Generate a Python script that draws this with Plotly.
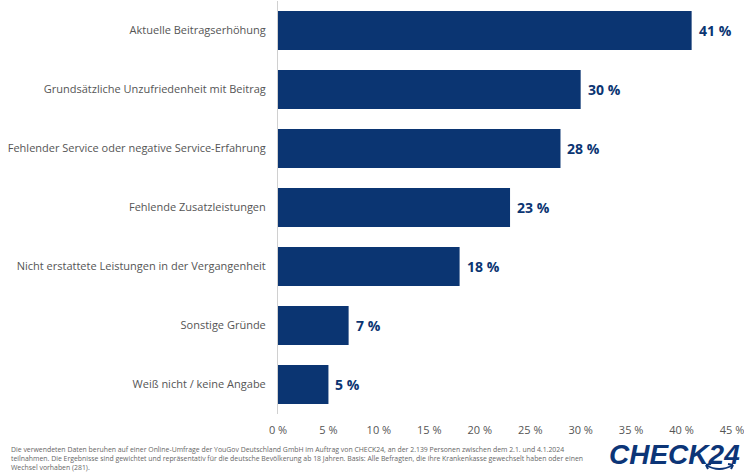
import plotly.graph_objects as go

categories = [
    "Aktuelle Beitragserhöhung",
    "Grundsätzliche Unzufriedenheit mit Beitrag",
    "Fehlender Service oder negative Service-Erfahrung",
    "Fehlende Zusatzleistungen",
    "Nicht erstattete Leistungen in der Vergangenheit",
    "Sonstige Gründe",
    "Weiß nicht / keine Angabe",
]
values = [41, 30, 28, 23, 18, 7, 5]
tick_vals = [0, 5, 10, 15, 20, 25, 30, 35, 40, 45]
tick_text = [f"{v} %" for v in tick_vals]

footer = ("Die verwendeten Daten beruhen auf einer Online-Umfrage der YouGov Deutschland GmbH im Auftrag von CHECK24, an der 2.139 Personen zwischen dem 2.1. und 4.1.2024<br>"
          "teilnahmen. Die Ergebnisse sind gewichtet und repräsentativ für die deutsche Bevölkerung ab 18 Jahren. Basis: Alle Befragten, die ihre Krankenkasse gewechselt haben oder einen<br>"
          "Wechsel vorhaben (281).")

NAVY = "#0b3572"
W, H = 744, 473
L, R, T, B = 278, 12, 1, 59
pw, ph = W - L - R, H - T - B

def px(x):
    return (x - L) / pw

def py(y):
    return (H - B - y) / ph

fig = go.Figure()
fig.add_trace(go.Bar(
    x=values, y=categories, orientation="h",
    marker=dict(color=NAVY, line=dict(width=0)),
    width=0.66, hoverinfo="skip",
))

annotations = []
for c, v in zip(categories, values):
    annotations.append(dict(
        x=v, y=c, xref="x", yref="y", text=f"<b>{v} %</b>", showarrow=False,
        xanchor="left", xshift=5, font=dict(family="Open Sans", size=14, color=NAVY),
    ))

annotations.append(dict(
    x=px(9), y=py(443), xref="paper", yref="paper", text=footer, showarrow=False,
    xanchor="left", yanchor="top", align="left",
    font=dict(family="Open Sans", size=6.9, color="#666666"),
))
annotations.append(dict(
    x=px(742), y=py(455), xref="paper", yref="paper", text="<b><i>CHECK24</i></b>", showarrow=False,
    xanchor="right", yanchor="middle",
    font=dict(family="Liberation Sans", size=28, color="#0c3577"),
))

shapes = [
    dict(type="path", xref="paper", yref="paper",
         path=f"M {px(706)} {py(465)} Q {px(719)} {py(473)} {px(733)} {py(465)}",
         line=dict(color="#0c3577", width=2)),
    dict(type="path", xref="paper", yref="paper",
         path=f"M {px(706)} {py(465)} L {px(711)} {py(464)} M {px(706)} {py(465)} L {px(708)} {py(469)}",
         line=dict(color="#0c3577", width=2)),
    dict(type="path", xref="paper", yref="paper",
         path=f"M {px(733)} {py(465)} L {px(728)} {py(464)} M {px(733)} {py(465)} L {px(731)} {py(469)}",
         line=dict(color="#0c3577", width=2)),
]

fig.update_layout(
    width=W, height=H, margin=dict(l=L, r=R, t=T, b=B),
    paper_bgcolor="white", plot_bgcolor="white",
    showlegend=False, bargap=0.34,
    annotations=annotations, shapes=shapes,
    xaxis=dict(range=[0, 45], tickvals=tick_vals, ticktext=tick_text,
               showgrid=False, zeroline=False, showline=False,
               ticks="outside", ticklen=6, tickcolor="rgba(0,0,0,0)",
               ticklabeloverflow="allow",
               tickfont=dict(family="Open Sans", size=11, color="#555555")),
    yaxis=dict(autorange="reversed", showgrid=False, zeroline=False,
               showline=True, linecolor="#d0d0d0", linewidth=1,
               ticks="outside", ticklen=9, tickcolor="rgba(0,0,0,0)",
               tickfont=dict(family="Open Sans", size=11, color="#555555")),
)

fig.write_html("out.html")
